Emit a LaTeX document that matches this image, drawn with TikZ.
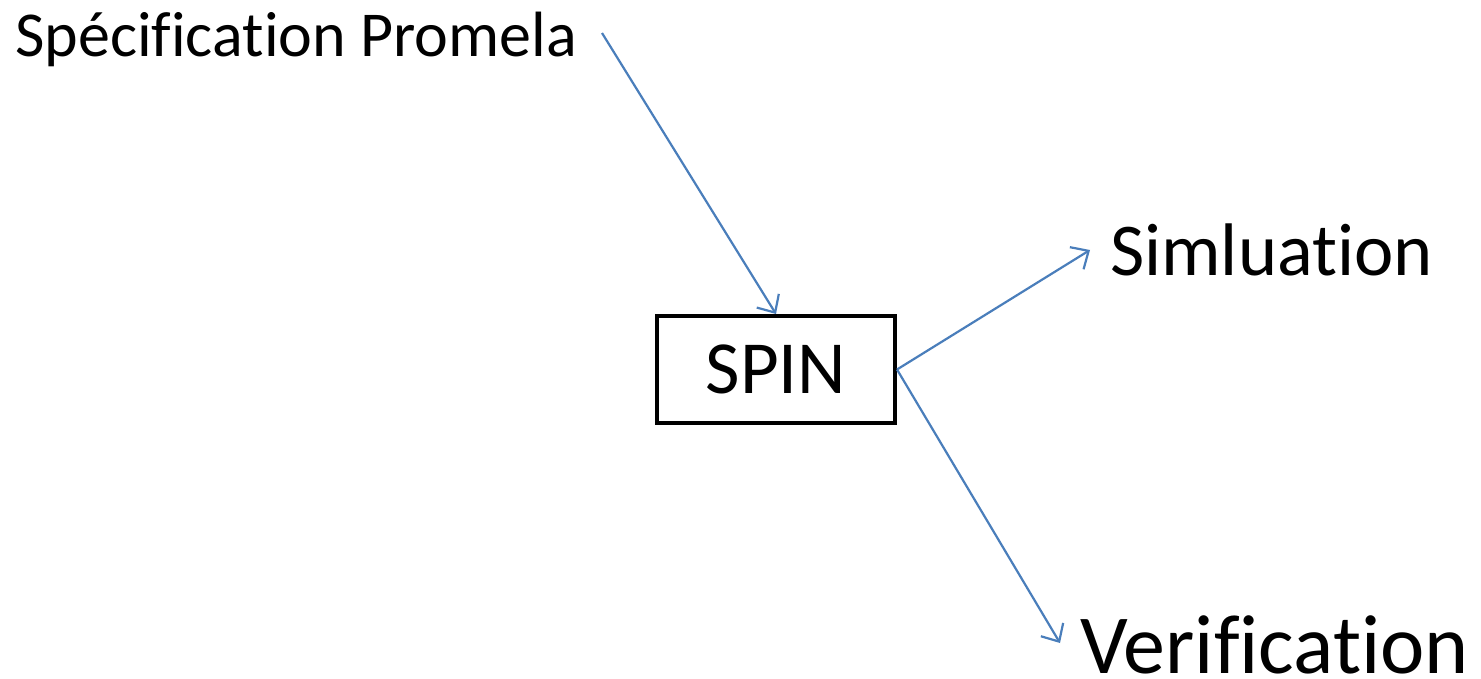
\documentclass[tikz,border=0pt]{standalone}
\usepackage{fontspec}
\setmainfont{Carlito}[Ligatures=CommonOff]
\usetikzlibrary{arrows.meta}
\definecolor{linkblue}{HTML}{4A7EBB}
\tikzset{
  link/.style={draw=linkblue, line width=2.2pt,
    -{Straight Barb[length=14pt,width=26pt,line width=2.2pt]}},
  label/.style={inner sep=0pt, anchor=base west, text=black},
}
\begin{document}
\begin{tikzpicture}[x=1pt, y=-1pt]
  \useasboundingbox (0,0) rectangle (1481,679);
  % the tool in the middle
  \node[draw, line width=4pt, minimum width=238pt, minimum height=107pt,
        inner sep=0pt, font=\fontsize{75}{78}\selectfont] (spin) at (776,369.5) {SPIN};
  % input and outputs
  \node[label, font=\fontsize{64}{66}\selectfont] (spec) at (15,57) {Spécification Promela};
  \node[label, font=\fontsize{74.5}{77}\selectfont] (sim) at (1110,276) {Simluation};
  \node[label, text depth=0pt, font=\fontsize{84}{86}\selectfont] (ver) at (1080,673) {Verification};
  \coordinate (in) at (602,33);
  \coordinate (simtip) at (1090,250);
  \coordinate (vertip) at (1060,643);
  \draw[link] (in) -- (spin.north);
  \draw[link] (spin.east) -- (simtip);
  \draw[link] (spin.east) -- (vertip);
\end{tikzpicture}
\end{document}
